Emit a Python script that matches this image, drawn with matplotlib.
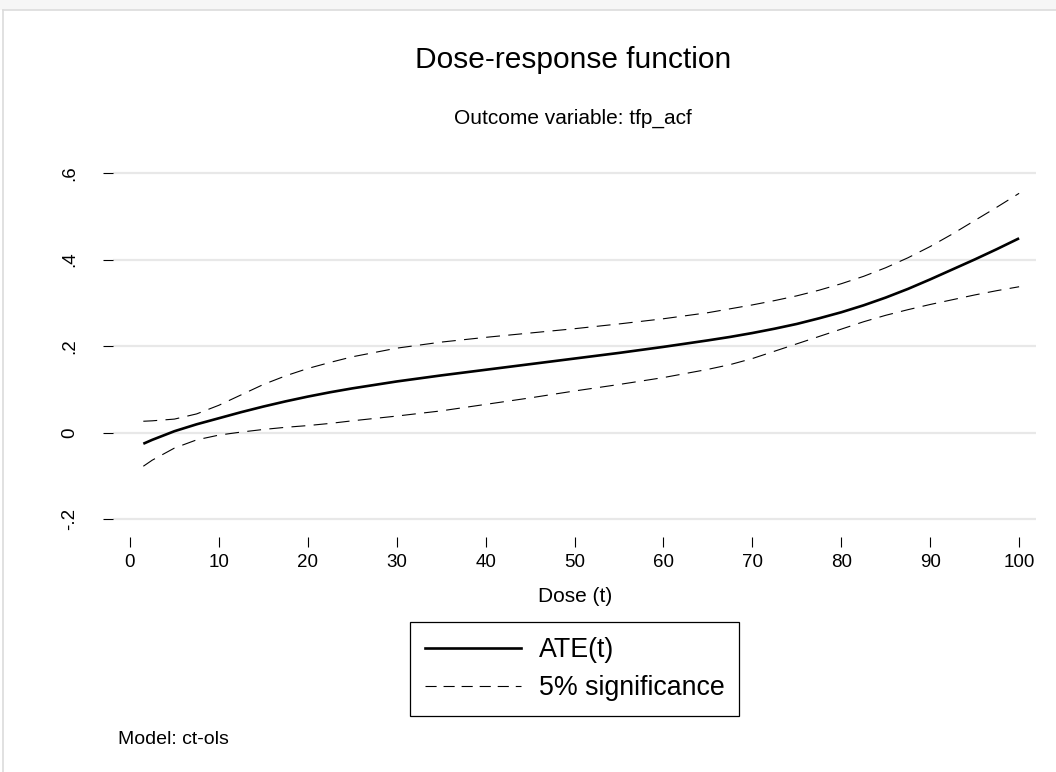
import matplotlib
matplotlib.use("Agg")
import matplotlib.pyplot as plt
from matplotlib.patches import Rectangle
from matplotlib.lines import Line2D

plt.rcParams['font.family'] = ['Liberation Sans', 'DejaVu Sans']
plt.rcParams['lines.scale_dashes'] = False

# Data
dose = [1.5, 2.5, 5, 7.5, 10, 12.5, 15, 17.5, 20, 22.5, 25, 30, 35, 40, 45, 50, 55, 60,
        65, 67.5, 70, 72.5, 75, 77.5, 80, 82.5, 85, 87.5, 90, 92.5, 95, 97.5, 100]
ate = [-0.026, -0.017, 0.003, 0.019, 0.033, 0.047, 0.060, 0.072, 0.083, 0.093, 0.102,
       0.118, 0.132, 0.145, 0.158, 0.171, 0.184, 0.198,
       0.213, 0.221, 0.230, 0.240, 0.251, 0.264, 0.278, 0.294, 0.312, 0.332, 0.354,
       0.377, 0.400, 0.424, 0.449]
upper = [0.026, 0.027, 0.031, 0.043, 0.063, 0.087, 0.111, 0.131, 0.148, 0.162, 0.175,
         0.195, 0.209, 0.220, 0.230, 0.240, 0.251, 0.263,
         0.277, 0.286, 0.295, 0.305, 0.316, 0.329, 0.344, 0.361, 0.381, 0.404, 0.430,
         0.459, 0.490, 0.521, 0.553]
lower = [-0.078, -0.064, -0.036, -0.017, -0.006, 0.001, 0.007, 0.012, 0.016, 0.021, 0.027,
         0.038, 0.050, 0.065, 0.080, 0.096, 0.111, 0.127,
         0.146, 0.157, 0.171, 0.188, 0.205, 0.222, 0.239, 0.256, 0.271, 0.284, 0.296,
         0.307, 0.318, 0.328, 0.337]
xticks = [0, 10, 20, 30, 40, 50, 60, 70, 80, 90, 100]
yticks = [-0.2, 0, 0.2, 0.4, 0.6]
ytick_labels = ['-.2', '0', '.2', '.4', '.6']

W, H = 1056, 772
fig = plt.figure(figsize=(W / 100, H / 100), dpi=100)
fig.patch.set_facecolor('white')

# outer graph-region band / border
fig.add_artist(Rectangle((0, 1 - 10 / H), 1, 10 / H, transform=fig.transFigure,
                         facecolor='#f6f6f6', edgecolor='none', zorder=0))
fig.add_artist(Line2D([3 / W, 1], [1 - 10 / H, 1 - 10 / H], transform=fig.transFigure,
                      color='#dcdcdc', lw=1.2))
fig.add_artist(Line2D([3 / W, 3 / W], [0, 1 - 10 / H], transform=fig.transFigure,
                      color='#dcdcdc', lw=1.2))

left, right = 113, 1036
top, bottom = 160, 537
ax = fig.add_axes([left / W, 1 - bottom / H, (right - left) / W, (bottom - top) / H])

ppu = 432.5
ax.set_ylim(-0.2 - (bottom - 519) / ppu, 0.6 + (173 - top) / ppu)
ax.set_xlim(-1.91, 101.9)

for s in ax.spines.values():
    s.set_visible(False)

ax.set_yticks(yticks)
ax.set_yticklabels(ytick_labels)
ax.set_xticks(xticks)
ax.grid(axis='y', color='#e8e8e8', lw=1.6)
ax.set_axisbelow(True)
ax.tick_params(axis='x', length=7.2, width=0.8, pad=5, labelsize=13.5, direction='out')
ax.tick_params(axis='y', length=7.2, width=0.8, pad=18, labelsize=13.5, direction='out',
               labelrotation=90)
for lab in ax.get_yticklabels():
    lab.set_va('center')

ax.plot(dose, upper, color='black', lw=0.8, dashes=(10, 6))
ax.plot(dose, lower, color='black', lw=0.8, dashes=(10, 6))
ax.plot(dose, ate, color='black', lw=1.9, solid_capstyle='butt', solid_joinstyle='round')

fig.text(573 / W, 1 - 60 / H, 'Dose-response function', ha='center', va='center', fontsize=21.5)
fig.text(573 / W, 1 - 118 / H, 'Outcome variable: tfp_acf', ha='center', va='center', fontsize=15)
fig.text(575 / W, 1 - 597 / H, 'Dose (t)', ha='center', va='center', fontsize=15)
fig.text(118 / W, 1 - 740 / H, 'Model: ct-ols', ha='left', va='center', fontsize=14)

handles = [Line2D([], [], color='black', lw=1.9),
           Line2D([], [], color='black', lw=0.8, dashes=(8, 5))]
leg = fig.legend(handles, ['ATE(t)', '5% significance'], loc='center',
                 bbox_to_anchor=(574.5 / W, 1 - 669 / H), fontsize=19.3,
                 frameon=True, fancybox=False, edgecolor='black', framealpha=1,
                 handlelength=3.6, handletextpad=0.65, labelspacing=0.45,
                 borderpad=0.55, borderaxespad=0)
leg.get_frame().set_linewidth(0.9)

fig.savefig('out.png', dpi=100)
